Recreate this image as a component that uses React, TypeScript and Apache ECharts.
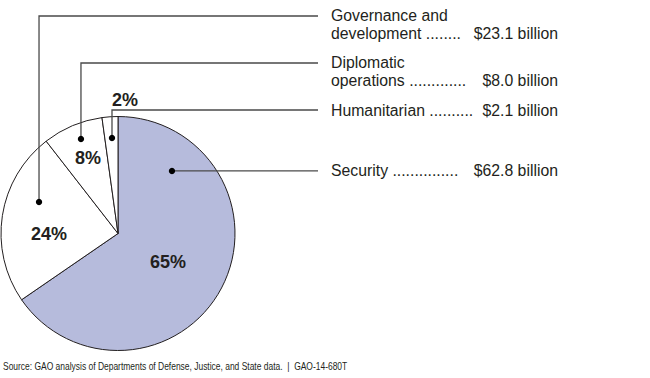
import React, { useEffect, useRef } from "react";
import * as echarts from "echarts";

// ---- Data ----
const categories = ["Security", "Governance and development", "Diplomatic operations", "Humanitarian"];
const values = [62.8, 23.1, 8.0, 2.1];
const labelLine1 = ["", "Governance and", "Diplomatic", ""];
const labelLine2 = ["Security", "development", "operations", "Humanitarian"];
const dotLeaders = ["...............", "........", ".............", ".........."];
const sourceNote = "Source: GAO analysis of Departments of Defense, Justice, and State data.  |  GAO-14-680T";

// ---- Layout (annotation placement, polar relative to pie centre) ----
const CX = 118;
const CY = 233.5;
const R = 117;
const sliceColors = ["#b6bbdc", "#ffffff", "#ffffff", "#ffffff"];
const dotPolar = [
  [49.2, 82.6],
  [158.3, 85],
  [111.4, 101.5],
  [93.6, 95.7],
];
const pctPolar = [
  [-29.7, 57.5],
  [180.4, 69],
  [111.7, 81.2],
  [87, 133.7],
];
const leaderY = [171, 16, 63, 110];
const textLeft = 331;
const valueRight = 558;
const leaderEnd = 318;

const polar = (a: number, r: number) => {
  const rad = (a * Math.PI) / 180;
  return [CX + r * Math.cos(rad), CY - r * Math.sin(rad)];
};

export default function App() {
  const ref = useRef<HTMLDivElement>(null);
  useEffect(() => {
    document.body.style.margin = "0";
    if (!ref.current) return;
    const chart = echarts.init(ref.current, null, { renderer: "svg" });
    const total = values.reduce((a, b) => a + b, 0);
    const font = "'Liberation Sans', Arial, sans-serif";
    const textColor = "#231f20";
    const lineColor = "#4a4a4a";
    const labelFont = `15.8px ${font}`;

    const graphics: any[] = [];
    values.forEach((v, i) => {
      const [dx, dy] = polar(dotPolar[i][0], dotPolar[i][1]);
      const y = leaderY[i];
      const pts = i === 0 ? [[dx, dy], [leaderEnd, dy]] : [[dx, dy], [dx, y], [leaderEnd, y]];
      graphics.push({
        type: "polyline",
        shape: { points: pts },
        style: { stroke: lineColor, lineWidth: 1.3, fill: null },
        z: 10,
      });
      graphics.push({
        type: "circle",
        shape: { cx: dx, cy: dy, r: 3.2 },
        style: { fill: "#000" },
        z: 11,
      });
      const ty = i === 0 ? dy : y;
      const lines = labelLine1[i] ? 2 : 1;
      const firstY = lines === 2 ? ty - 1 : ty;
      if (lines === 2) {
        graphics.push({
          type: "text",
          x: textLeft,
          y: firstY,
          style: { text: labelLine1[i], font: labelFont, fill: textColor, textAlign: "left", textVerticalAlign: "middle" },
        });
      }
      const secondY = lines === 2 ? firstY + 18 : ty;
      graphics.push({
        type: "text",
        x: textLeft,
        y: secondY,
        style: { text: `${labelLine2[i]} ${dotLeaders[i]}`, font: labelFont, fill: textColor, textAlign: "left", textVerticalAlign: "middle" },
      });
      graphics.push({
        type: "text",
        x: valueRight,
        y: secondY,
        style: { text: `$${v.toFixed(1)} billion`, font: labelFont, fill: textColor, textAlign: "right", textVerticalAlign: "middle" },
      });
      const [px, py] = polar(pctPolar[i][0], pctPolar[i][1]);
      graphics.push({
        type: "text",
        x: px,
        y: py,
        style: {
          text: `${Math.round((v / total) * 100)}%`,
          font: `bold 18px ${font}`,
          fill: textColor,
          textAlign: "center",
          textVerticalAlign: "middle",
        },
        z: 12,
      });
    });
    graphics.push({
      type: "text",
      x: 3,
      y: 366,
      scaleX: 0.77,
      style: { text: sourceNote, font: `11px ${font}`, fill: textColor, textAlign: "left", textVerticalAlign: "middle" },
    });

    chart.setOption({
      animation: false,
      backgroundColor: "#ffffff",
      series: [
        {
          type: "pie",
          center: [CX, CY],
          radius: [0, R],
          startAngle: 90,
          clockwise: true,
          label: { show: false },
          labelLine: { show: false },
          emphasis: { disabled: true },
          itemStyle: { borderColor: "#231f20", borderWidth: 1 },
          data: categories.map((c, i) => ({ name: c, value: values[i], itemStyle: { color: sliceColors[i] } })),
        },
      ],
      graphic: graphics,
    });
    return () => chart.dispose();
  }, []);
  return <div ref={ref} style={{ width: 650, height: 378 }} />;
}
